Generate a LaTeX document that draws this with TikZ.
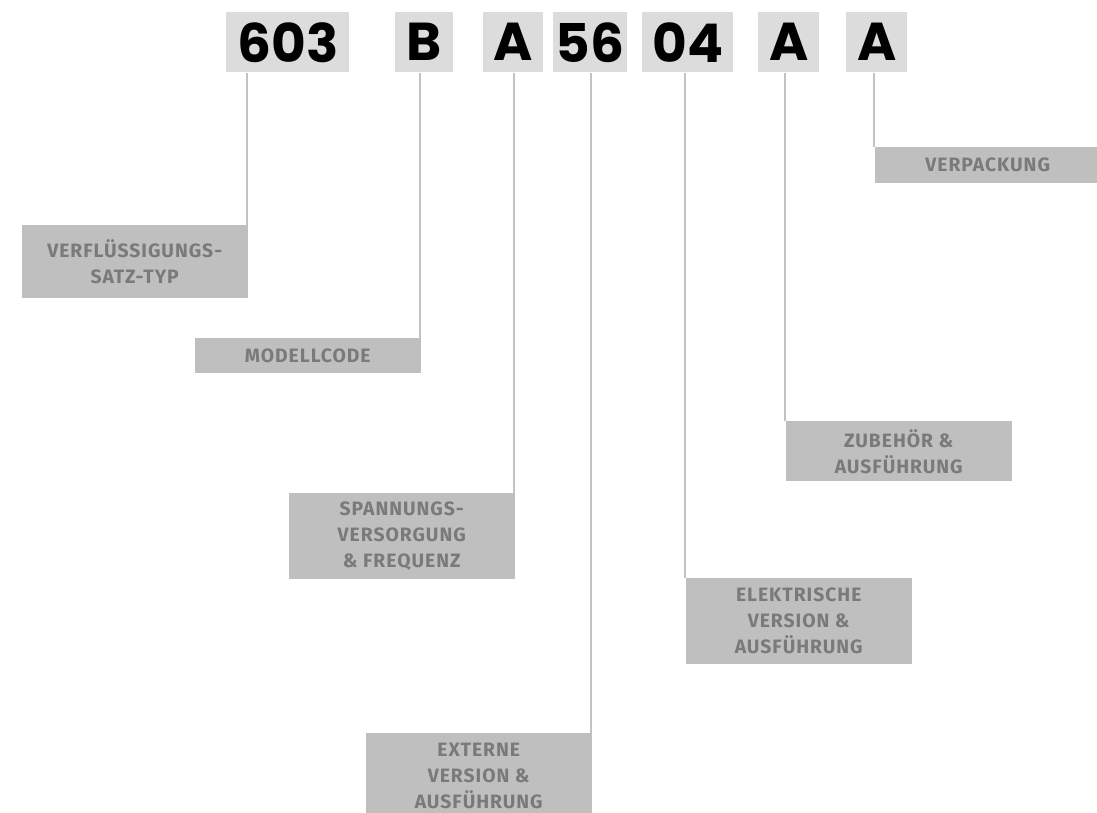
\documentclass[tikz,border=0pt]{standalone}
\usepackage{fontspec}
\newfontfamily\codefont{Poppins}
\newfontfamily\tagfont{Fira Sans}[LetterSpace=5]
\definecolor{codebg}{HTML}{DCDCDC}
\definecolor{tagbg}{HTML}{BFBFBF}
\definecolor{tagtext}{HTML}{7A7A7A}
\definecolor{linegray}{HTML}{C3C3C3}
\tikzset{
  codebox/.style={fill=codebg, inner sep=0pt, minimum height=45pt, anchor=north west,
    font=\codefont\bfseries\fontsize{40}{40}\selectfont},
  tagbox/.style={fill=tagbg, inner sep=0pt, minimum width=169.5pt, anchor=north east,
    align=center, text=tagtext, font=\tagfont\bfseries\fontsize{14.5}{19.5}\selectfont},
  leader/.style={draw=linegray, line width=1.5pt}
}
\begin{document}
\begin{tikzpicture}[x=0.75pt,y=-0.75pt]
\useasboundingbox (0,0) rectangle (1097,813);
\clip (0,0) rectangle (1097,813);
% code characters
\node[codebox, minimum width=92.25pt] (ctyp) at (226,12) {603};
\node[codebox, minimum width=43.5pt] (cmod) at (395,12) {B};
\node[codebox, minimum width=45pt] (cspan) at (483,12) {A};
\node[codebox, minimum width=55.5pt] (cext) at (553,12) {56};
\node[codebox, minimum width=68.25pt] (celek) at (642,12) {04};
\node[codebox, minimum width=45.75pt] (czub) at (758,12) {A};
\node[codebox, minimum width=45.75pt] (cverp) at (846,12) {A};
% labels
\node[tagbox, minimum height=54.75pt] (ttyp) at (248,225) {VERFLÜSSIGUNGS-\\SATZ-TYP};
\node[tagbox, minimum height=26.25pt] (tmod) at (421,338) {MODELLCODE};
\node[tagbox, minimum height=64.5pt] (tspan) at (515,493) {SPANNUNGS-\\VERSORGUNG\\\& FREQUENZ};
\node[tagbox, minimum height=64.5pt] (text) at (592,733) {EXTERNE\\VERSION \&\\AUSFÜHRUNG};
\node[tagbox, minimum height=64.5pt] (telek) at (912,578) {ELEKTRISCHE\\VERSION \&\\AUSFÜHRUNG};
\node[tagbox, minimum height=45pt] (tzub) at (1012,421) {ZUBEHÖR \&\\AUSFÜHRUNG};
\node[tagbox, minimum height=27pt] (tverp) at (1101,147) {VERPACKUNG};
% leader lines
\draw[leader] ([xshift=-0.75pt]ttyp.north east) -- ([xshift=-0.75pt]ttyp.north east |- ctyp.south);
\draw[leader] ([xshift=-0.75pt]tmod.north east) -- ([xshift=-0.75pt]tmod.north east |- cmod.south);
\draw[leader] ([xshift=-0.75pt]tspan.north east) -- ([xshift=-0.75pt]tspan.north east |- cspan.south);
\draw[leader] ([xshift=-0.75pt]text.north east) -- ([xshift=-0.75pt]text.north east |- cext.south);
\draw[leader] (telek.north west) -- (telek.north west |- celek.south);
\draw[leader] (tzub.north west) -- (tzub.north west |- czub.south);
\draw[leader] (tverp.north west) -- (tverp.north west |- cverp.south);
\end{tikzpicture}
\end{document}
